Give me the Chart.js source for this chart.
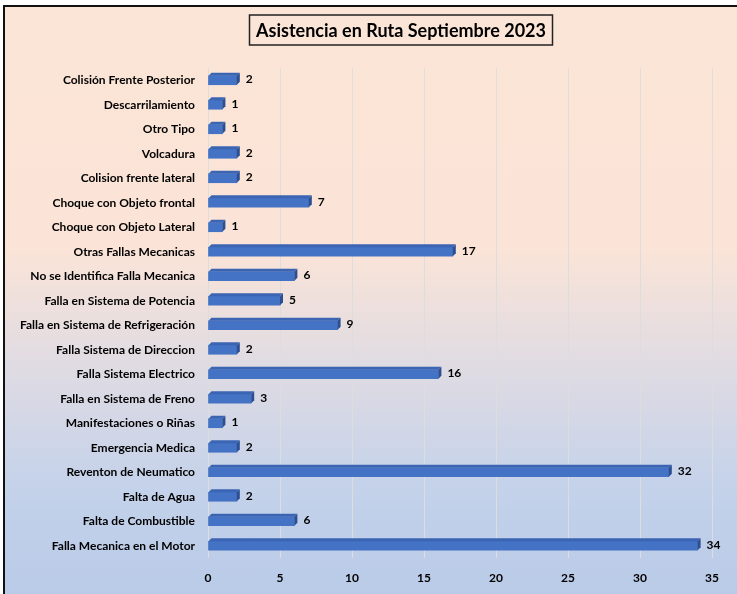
<!DOCTYPE html>
<html>
<head>
<meta charset="utf-8">
<script src="https://cdn.jsdelivr.net/npm/chart.js@4"></script>
<style>
  html, body { margin: 0; padding: 0; background: #fff; overflow: hidden; }
  #frame {
    position: absolute; left: 3px; top: 5px; width: 760px; height: 600px;
    border-left: 2px solid #111; border-top: 2px solid #111;
    background: linear-gradient(to bottom, #FBE5D6 0%, #FBE4D7 40%, #E2DCE2 58%, #C4D2EA 80%, #B8CAE8 100%);
  }
  #wrap { position: absolute; left: 0; top: 0; width: 737px; height: 594px; }
</style>
</head>
<body>
<div id="frame"></div>
<div id="wrap"><canvas id="rutaChart" width="737" height="594"></canvas></div>
<script>
const categories = [
  "Colisión Frente Posterior",
  "Descarrilamiento",
  "Otro Tipo",
  "Volcadura",
  "Colision frente lateral",
  "Choque con Objeto frontal",
  "Choque con Objeto Lateral",
  "Otras Fallas Mecanicas",
  "No se Identifica Falla Mecanica",
  "Falla en Sistema de Potencia",
  "Falla en Sistema de Refrigeración",
  "Falla Sistema de Direccion",
  "Falla Sistema Electrico",
  "Falla en Sistema de Freno",
  "Manifestaciones o Riñas",
  "Emergencia Medica",
  "Reventon de Neumatico",
  "Falta de Agua",
  "Falta de Combustible",
  "Falla Mecanica en el Motor",
];
const values = [2, 1, 1, 2, 2, 7, 1, 17, 6, 5, 9, 2, 16, 3, 1, 2, 32, 2, 6, 34];
const xTicks = [0, 5, 10, 15, 20, 25, 30, 35];
const titleText = "Asistencia en Ruta Septiembre 2023";

const FONT = "Lato, 'Open Sans', sans-serif";
const DEPTH = 3;

// 3D look for the bars + value labels
const bars3d = {
  id: "bars3d",
  afterDatasetsDraw(chart) {
    const ctx = chart.ctx;
    const meta = chart.getDatasetMeta(0);
    ctx.save();
    meta.data.forEach((bar, i) => {
      const top = bar.y - bar.height / 2;
      const bottom = bar.y + bar.height / 2;
      const x0 = bar.base, x1 = bar.x;
      // top face
      ctx.fillStyle = "#3B65B3";
      ctx.beginPath();
      ctx.moveTo(x0, top);
      ctx.lineTo(x0 + DEPTH, top - DEPTH);
      ctx.lineTo(x1 + DEPTH, top - DEPTH);
      ctx.lineTo(x1, top);
      ctx.closePath();
      ctx.fill();
      // side face
      ctx.fillStyle = "#2B4F91";
      ctx.beginPath();
      ctx.moveTo(x1, top);
      ctx.lineTo(x1 + DEPTH, top - DEPTH);
      ctx.lineTo(x1 + DEPTH, bottom - DEPTH);
      ctx.lineTo(x1, bottom);
      ctx.closePath();
      ctx.fill();
      // value
      ctx.fillStyle = "#000";
      ctx.font = "bold 12px " + FONT;
      ctx.textAlign = "left";
      ctx.textBaseline = "middle";
      ctx.fillText(String(values[i]), x1 + DEPTH + 6, bar.y - 1);
    });
    ctx.restore();
  },
};

// boxed title
const boxTitle = {
  id: "boxTitle",
  afterDraw(chart) {
    const ctx = chart.ctx;
    ctx.save();
    ctx.font = "bold 18px " + FONT;
    ctx.textAlign = "center";
    ctx.textBaseline = "middle";
    const cx = 401, cy = 30;
    const w = 303, h = 30;
    ctx.strokeStyle = "#222";
    ctx.lineWidth = 1.5;
    ctx.strokeRect(cx - w / 2, cy - h / 2, w, h);
    ctx.fillStyle = "#000";
    ctx.fillText(titleText, cx, cy + 1);
    ctx.restore();
  },
};

new Chart(document.getElementById("rutaChart").getContext("2d"), {
  type: "bar",
  data: {
    labels: categories,
    datasets: [
      {
        data: values,
        backgroundColor: "#4472C4",
        barThickness: 9,
      },
    ],
  },
  plugins: [bars3d, boxTitle],
  options: {
    indexAxis: "y",
    responsive: false,
    animation: false,
    layout: { padding: { top: 68, right: 25, left: 0, bottom: 0 } },
    plugins: {
      legend: { display: false },
      tooltip: { enabled: false },
      title: { display: false },
    },
    scales: {
      x: {
        min: 0,
        max: 35,
        afterBuildTicks: (scale) => {
          scale.ticks = xTicks.map((v) => ({ value: v }));
        },
        afterFit: (scale) => {
          scale.height = 36;
        },
        grid: { color: "#DDDDDD", lineWidth: 1, drawTicks: false },
        border: { display: false },
        ticks: {
          padding: 13,
          color: "#000",
          font: { family: FONT, size: 12, weight: "bold" },
        },
      },
      y: {
        afterFit: (scale) => {
          scale.width = 208;
        },
        grid: { display: false },
        border: { display: false },
        ticks: {
          padding: 5,
          color: "#000",
          autoSkip: false,
          font: { family: FONT, size: 12, weight: "bold" },
        },
      },
    },
  },
});
</script>
</body>
</html>
